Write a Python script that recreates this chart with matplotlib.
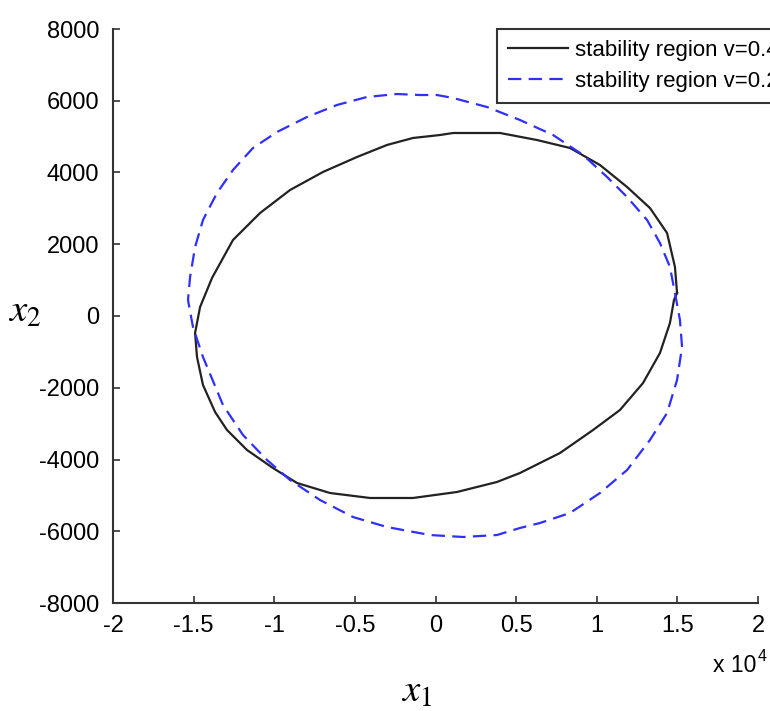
import matplotlib.pyplot as plt

plt.rcParams['font.family'] = ['Liberation Sans', 'DejaVu Sans']
plt.rcParams['mathtext.fontset'] = 'stix'
plt.rcParams['axes.unicode_minus'] = False

# === Kararlilik bolgesi v=0.4 (duz siyah) ===
x_v04 = [14980, 14850, 14360, 13300, 11880, 10200, 8340, 6290, 4000, 1090,
         280, -1400, -3010, -4870, -6980, -9020, -10880, -12560, -13860, -14600,
         -14910, -14790, -14420, -13670, -12930, -11690, -10080, -8590, -6540, -4060,
         -1400, 1330, 3810, 5240, 7720, 9770, 11440, 12870, 13920, 14540,
         14790, 14980]
y_v04 = [641, 1366, 2314, 3010, 3596, 4209, 4683, 4906, 5101, 5101,
         5045, 4962, 4767, 4432, 4014, 3512, 2871, 2118, 1059, 251,
         -474, -1143, -1923, -2676, -3178, -3735, -4237, -4655, -4934, -5073,
         -5073, -4906, -4627, -4376, -3819, -3178, -2620, -1868, -1031, -195,
         446, 641]

# === Kararlilik bolgesi v=0.2 (kesikli mavi) ===
x_v02 = [15290, 15160, 14850, 14540, 13920, 13120, 11880, 10640, 9150, 7290,
         5240, 3190, 1090, 90, -960, -2390, -4250, -6110, -7970, -9830,
         -11320, -12560, -13550, -14420, -14910, -15220, -15350, -15040, -14420, -13180,
         -11940, -10450, -9020, -7160, -5120, -3010, -340, 1710, 3810, 5240,
         6480, 8340, 10200, 11880, 13300, 14360, 14980, 15290]
y_v02 = [-864, -111, 641, 1366, 2035, 2676, 3317, 3875, 4488, 5045,
         5463, 5826, 6077, 6160, 6160, 6188, 6105, 5882, 5547, 5129,
         4683, 4070, 3429, 2676, 1923, 1087, 446, -307, -1143, -2481,
         -3317, -4014, -4571, -5129, -5603, -5882, -6105, -6160, -6105, -5909,
         -5770, -5491, -4934, -4293, -3456, -2704, -1784, -864]

x_ticks = [-20000, -15000, -10000, -5000, 0, 5000, 10000, 15000, 20000]
x_tick_labels = ['-2', '-1.5', '-1', '-0.5', '0', '0.5', '1', '1.5', '2']
y_ticks = [-8000, -6000, -4000, -2000, 0, 2000, 4000, 6000, 8000]
labels = ['stability region v=0.4', 'stability region v=0.2']

W, H = 770, 711
fig = plt.figure(figsize=(W / 100, H / 100), dpi=100)
ax = fig.add_axes([113 / W, (H - 603) / H, 645 / W, 574 / H])

ax.plot(x_v04, y_v04, color='#222222', lw=1.6, label=labels[0])
ax.plot(x_v02, y_v02, color='#2f2fff', lw=1.6, linestyle=(0, (6, 3.3)), label=labels[1])

ax.set_xlim(-20000, 20000)
ax.set_ylim(-8000, 8000)
ax.set_xticks(x_ticks)
ax.set_xticklabels(x_tick_labels)
ax.set_yticks(y_ticks)

for side in ['top', 'right']:
    ax.spines[side].set_visible(False)
for side in ['left', 'bottom']:
    ax.spines[side].set_color('#333333')
    ax.spines[side].set_linewidth(1.5)
ax.tick_params(direction='in', length=5, width=1.2, color='#333333',
               labelsize=17, labelcolor='black')
ax.tick_params(axis='x', pad=9)
ax.tick_params(axis='y', pad=10)

# eksen etiketleri (serif italik)
fig.text(25 / W, 1 - 312 / H, r'$x_2$', fontsize=28, ha='center', va='center')
fig.text(417 / W, 1 - 692 / H, r'$x_1$', fontsize=28, ha='center', va='center')
fig.text(713 / W, 1 - 672 / H, 'x 10', fontsize=16.5, ha='left', va='baseline')
fig.text(758 / W, 1 - 661 / H, '4', fontsize=11.5, ha='left', va='baseline')

# lejant sag kenarda kesiliyor (orijinaldeki gibi)
leg = ax.legend(loc='upper left', bbox_to_anchor=(497 / W, 1 - 29 / H),
                bbox_transform=fig.transFigure, borderaxespad=0,
                fontsize=16, handlelength=2.7, handletextpad=0.3,
                borderpad=0.5, labelspacing=0.45, fancybox=False, framealpha=1)
leg.get_frame().set_edgecolor('#333333')
leg.get_frame().set_linewidth(1.5)

fig.savefig('out.png', dpi=100)
